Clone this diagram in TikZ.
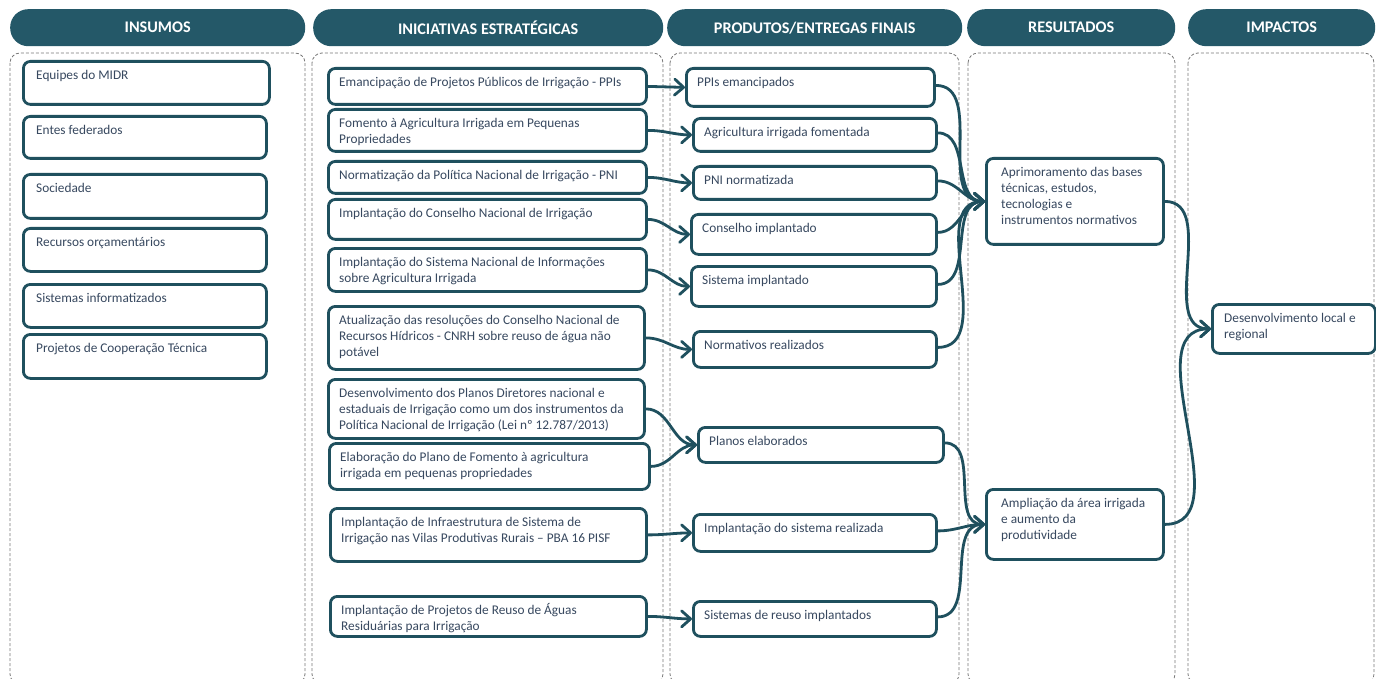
\documentclass[tikz,border=0pt]{standalone}
\usepackage{fontspec}
\setmainfont{Carlito}
\usetikzlibrary{arrows.meta}
\definecolor{hdrc}{RGB}{36,88,104}
\definecolor{boxc}{RGB}{31,80,94}
\definecolor{txtc}{RGB}{55,72,95}
\definecolor{colc}{RGB}{120,120,120}
\tikzset{
  box/.style={draw=boxc, line width=2.8pt, rounded corners=7pt, fill=white, inner sep=0pt},
  txt/.style={text=txtc, anchor=base west, inner sep=0pt, font=\fontsize{13.3}{16}\selectfont},
  hdr/.style={fill=hdrc, rounded corners=18pt, text=white, anchor=north west, inner sep=0pt,
              minimum height=37pt, font=\bfseries\fontsize{16.2}{18}\selectfont},
  colbox/.style={draw=colc, dash pattern=on 3pt off 2pt, line width=0.8pt, rounded corners=10pt},
  conn/.style={draw=boxc, line width=2.8pt,
     -{Straight Barb[length=9pt,width=16pt,line width=2.8pt,round]}}
}
% optional left padding, name, x1, y1, x2, y2, text
\newcommand\mybox[7][12]{%
  \node[box, anchor=north west, minimum width={#5-#3}, minimum height={#6-#4}] (#2) at (#3,#4) {};
  \node[txt] (#2t) at (#3+#1,#4+19.5) {\parbox[t]{400pt}{\raggedright #7}};}
\begin{document}
\begin{tikzpicture}[x=1pt,y=-1pt]
\useasboundingbox (0,0) rectangle (1376,679);
\fill[white] (0,0) rectangle (1376,679);
% column frames
\draw[colbox] (10,53) rectangle (305,684);
\draw[colbox] (312,53) rectangle (663,684);
\draw[colbox] (670,53) rectangle (959,684);
\draw[colbox] (968,53) rectangle (1175,684);
\draw[colbox] (1188,53) rectangle (1374,684);
% headers
\node[hdr, minimum width=295pt] (h1) at (10,9) {INSUMOS};
\node[hdr, minimum width=350pt] (h2) at (313,9) {INICIATIVAS ESTRATÉGICAS};
\node[hdr, minimum width=295pt] (h3) at (667,9) {PRODUTOS/ENTREGAS FINAIS};
\node[hdr, minimum width=208pt] (h4) at (967,9) {RESULTADOS};
\node[hdr, minimum width=187pt] (h5) at (1188,9) {IMPACTOS};
% insumos
\mybox[14]{i1}{22}{60}{268}{103}{Equipes do MIDR}
\mybox[14]{i2}{22}{115}{265}{157}{Entes federados}
\mybox[14]{i3}{22}{173}{265}{217}{Sociedade}
\mybox[14]{i4}{22}{227}{265}{270}{Recursos orçamentários}
\mybox[14]{i5}{22}{283}{265}{326}{Sistemas informatizados}
\mybox[14]{i6}{22}{333}{265}{377}{Projetos de Cooperação Técnica}
% iniciativas
\mybox{b1}{327}{67}{645}{103}{Emancipação de Projetos Públicos de Irrigação - PPIs}
\mybox{b2}{327}{108}{645}{150}{Fomento à Agricultura Irrigada em Pequenas\\Propriedades}
\mybox{b3}{327}{160}{645}{192}{Normatização da Política Nacional de Irrigação - PNI}
\mybox{b4}{327}{198}{645}{238}{Implantação do Conselho Nacional de Irrigação}
\mybox{b5}{327}{247}{645}{290}{Implantação do Sistema Nacional de Informações\\sobre Agricultura Irrigada}
\mybox{b6}{327}{305}{643}{368}{Atualização das resoluções do Conselho Nacional de\\Recursos Hídricos - CNRH sobre reuso de água não\\potável}
\mybox{b7}{327}{378}{643}{437}{Desenvolvimento dos Planos Diretores nacional e\\estaduais de Irrigação como um dos instrumentos da\\Política Nacional de Irrigação (Lei nº 12.787/2013)}
\mybox{b8}{328}{442}{648}{488}{Elaboração do Plano de Fomento à agricultura\\irrigada em pequenas propriedades}
\mybox{b9}{329}{507}{645}{560}{Implantação de Infraestrutura de Sistema de\\Irrigação nas Vilas Produtivas Rurais – PBA 16 PISF}
\mybox{b10}{329}{595}{645}{635}{Implantação de Projetos de Reuso de Águas\\Residuárias para Irrigação}
% produtos
\mybox{p1}{685}{67}{933}{105}{PPIs emancipados}
\mybox{p2}{692}{117}{935}{150}{Agricultura irrigada fomentada}
\mybox{p3}{692}{165}{935}{198}{PNI normatizada}
\mybox{p4}{690}{213}{935}{253}{Conselho implantado}
\mybox{p5}{690}{265}{935}{305}{Sistema implantado}
\mybox{p6}{692}{330}{935}{366}{Normativos realizados}
\mybox{p7}{697}{426}{942}{461}{Planos elaborados}
\mybox{p8}{692}{513}{935}{550}{Implantação do sistema realizada}
\mybox{p9}{692}{600}{935}{635}{Sistemas de reuso implantados}
% resultados
\mybox[16]{r1}{985}{157}{1162}{243}{Aprimoramento das bases\\técnicas, estudos,\\tecnologias e\\instrumentos normativos}
\mybox[16]{r2}{985}{488}{1162}{558}{Ampliação da área irrigada\\e aumento da\\produtividade}
% impactos
\mybox[13]{m1}{1211}{303}{1374}{352}{Desenvolvimento local e\\regional}
% connectors iniciativas -> produtos
\draw[conn] (b1.east) -- (p1.west);
\foreach \a/\b in {b2/p2,b3/p3,b4/p4,b5/p5,b6/p6,b7/p7,b8/p7,b9/p8,b10/p9}
  \draw[conn] (\a.east) to[out=0,in=180] (\b.west);
% produtos -> resultados
\foreach \a in {p1,p2,p3,p4,p5,p6}
  \draw[conn] ([yshift=2pt]\a.east) to[out=0,in=180] (r1.west);
\foreach \a in {p7,p8,p9}
  \draw[conn] ([yshift=2pt]\a.east) to[out=0,in=180] (r2.west);
% resultados -> impactos
\draw[conn] (r1.east) to[out=0,in=180] (m1.west);
\draw[conn] (r2.east) to[out=0,in=180] (m1.west);
\end{tikzpicture}
\end{document}
